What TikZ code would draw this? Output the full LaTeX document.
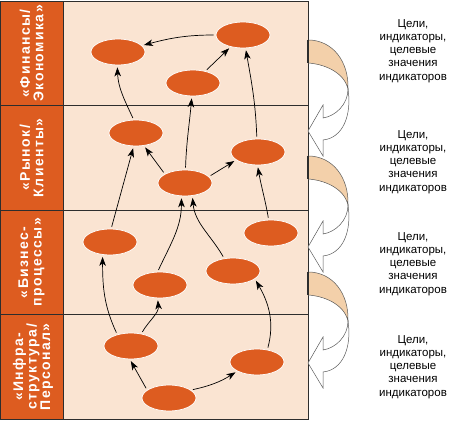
\documentclass[tikz,border=0pt]{standalone}
\usepackage{fontspec}
\setmainfont{Liberation Sans}
\newfontfamily\lblfont[LetterSpace=10]{Liberation Sans}
\usetikzlibrary{arrows.meta,shapes.geometric}
\definecolor{panel}{RGB}{250,228,210}
\definecolor{rust}{RGB}{221,92,32}
\definecolor{tan}{RGB}{243,208,170}
\definecolor{rule}{RGB}{45,45,45}

\begin{document}
\begin{tikzpicture}[x=1pt,y=1pt,
  goal/.style={ellipse, fill=rust, draw=white, line width=0.7pt, minimum width=54pt, minimum height=26pt, inner sep=0pt},
  link/.style={line width=0.7pt, -{Stealth[length=9pt,width=6.5pt,inset=2.5pt]}, shorten >=2pt, shorten <=2pt},
  band/.style={fill=tan, draw=black!65, line width=0.5pt},
  tip/.style={fill=white, draw=black!65, line width=0.5pt},
  lbl/.style={rotate=90, align=center, text=white, font=\lblfont\bfseries\fontsize{14}{13.5}\selectfont},
  txt/.style={align=center, font=\fontsize{11.5}{13.2}\selectfont}]
\useasboundingbox (0,0) rectangle (456,424);
\fill[panel] (0,5) rectangle (308,423);
\fill[rust] (0,5) rectangle (63,423);
\draw[rule, line width=0.8pt] (0,5) rectangle (308,423);
\draw[rule, line width=0.8pt] (63,5) -- (63,423);
\foreach \y in {318.5,214,109.5} \draw[rule, line width=0.8pt] (0,\y) -- (308,\y);

% perspectives
\node[lbl] (fin) at (31.5,370.75) {«Финансы/\\Экономика»};
\node[lbl] (mkt) at (31.5,266.25) {«Рынок/\\Клиенты»};
\node[lbl] (biz) at (31.5,161.75) {«Бизнес-\\процессы»};
\node[lbl] (inf) at (33,57.25) {«Инфра-\\структура/\\Персонал»};

% goals
\node[goal] (f1) at (118,372) {};
\node[goal] (f2) at (243,389) {};
\node[goal] (f3) at (193,341) {};
\node[goal] (m1) at (136,291) {};
\node[goal] (m2) at (258,272) {};
\node[goal] (m3) at (185,241) {};
\node[goal] (b1) at (110,182) {};
\node[goal] (b2) at (271,191) {};
\node[goal] (b3) at (160,139) {};
\node[goal] (b4) at (233,153) {};
\node[goal] (i1) at (131,78) {};
\node[goal] (i2) at (257,62) {};
\node[goal] (i3) at (169,26) {};

% cause and effect
\draw[link] (f2) to[out=180,in=15] (f1);
\draw[link] (f3) -- (f2);
\draw[link] (m1.100) to[out=115,in=-88] (f1.-93);
\draw[link] (m3.88) to[out=88,in=-95] (f3.-95);
\draw[link] (m2.95) to[out=92,in=-80] (f2.-79);
\draw[link] (m3.156) -- (m1.-58);
\draw[link] (m3.15) -- (m2.200);
\draw[link] (b1.85) -- (m1.-100);
\draw[link] (b3.100) to[out=65,in=-90] (m3.-105);
\draw[link] (b4.125) to[out=120,in=-85] (m3.-60);
\draw[link] (b2.100) to[out=100,in=-80] (m2.-92);
\draw[link] (i1.140) to[out=115,in=-90] (b1.-120);
\draw[link] (i1.50) to[out=60,in=-85] (b3.-100);
\draw[link] (i2.50) to[out=75,in=-60] (b4.-20);
\draw[link] (i3.160) -- (i1.-95);
\draw[link] (i3.20) to[bend right=10] (i2.205);

% cascade arrows
\foreach \k in {0,1,2}{
  \begin{scope}[shift={(308,384-116*\k)}, yscale=-1]
    \filldraw[band] (0,0) .. controls (25,0) and (41,22) .. (40,49) .. controls (36,32) and (16,24) .. (0,23) -- cycle;
    \filldraw[tip] (40,49) .. controls (40,64) and (28,76) .. (15,78) -- (15,65) -- (0,91) -- (15,116) -- (15,100) .. controls (35,98) and (44,75) .. (40,49) -- cycle;
    \draw[rule, line width=1.6pt] (0,0) -- (0,23);
  \end{scope}
}

% targets
\node[txt] (t1) at (413,373) {Цели,\\индикаторы,\\целевые\\значения\\индикаторов};
\node[txt] (t2) at (413,262) {Цели,\\индикаторы,\\целевые\\значения\\индикаторов};
\node[txt] (t3) at (413,160) {Цели,\\индикаторы,\\целевые\\значения\\индикаторов};
\node[txt] (t4) at (413,57) {Цели,\\индикаторы,\\целевые\\значения\\индикаторов};
\end{tikzpicture}
\end{document}
